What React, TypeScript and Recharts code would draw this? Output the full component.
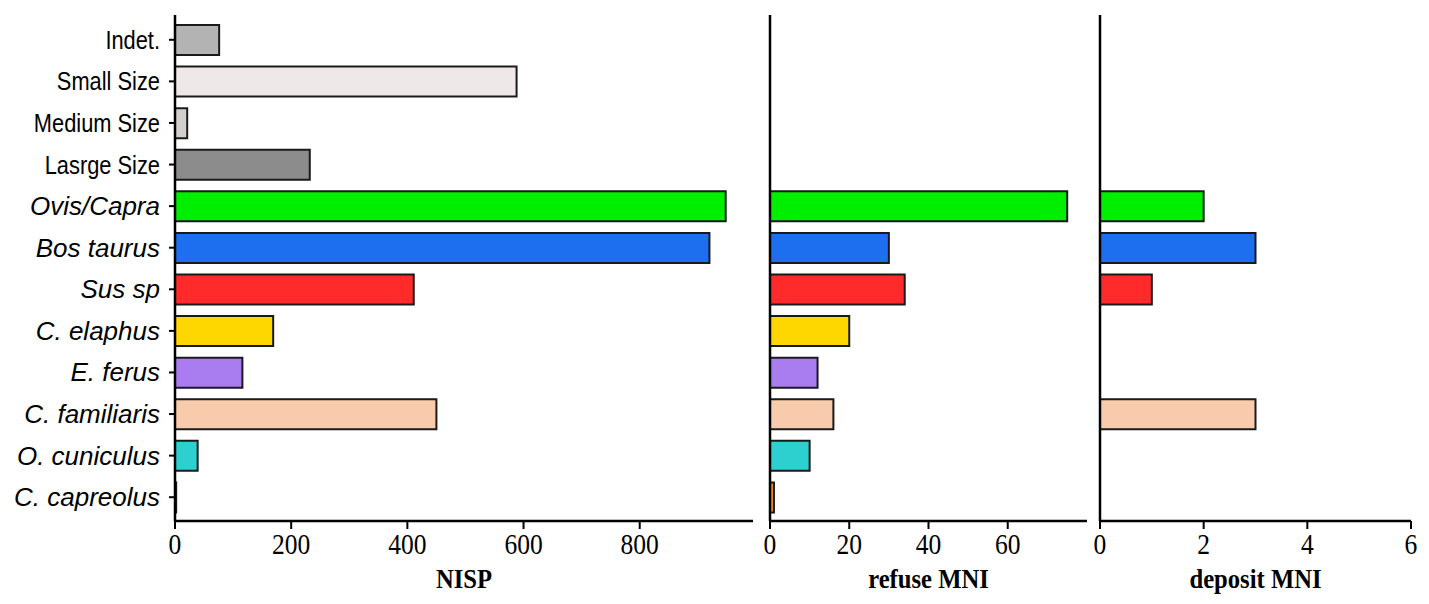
import { BarChart, Bar, XAxis, YAxis, Cell } from 'recharts';

const categories = [
  'Indet.', 'Small Size', 'Medium Size', 'Lasrge Size', 'Ovis/Capra', 'Bos taurus',
  'Sus sp', 'C. elaphus', 'E. ferus', 'C. familiaris', 'O. cuniculus', 'C. capreolus',
];
const italicLabels = [false, false, false, false, true, true, true, true, true, true, true, true];

const nisp = [76, 588, 21, 232, 948, 920, 411, 169, 116, 450, 39, 2];
const refuseMni = [0, 0, 0, 0, 75, 30, 34, 20, 12, 16, 10, 1];
const depositMni = [0, 0, 0, 0, 2, 3, 1, 0, 0, 3, 0, 0];

const barColors = [
  '#b3b3b3', '#efe8e8', '#d4cfcf', '#8c8c8c', '#00ee00', '#1e6ff0',
  '#ff2a2a', '#ffd700', '#a97cf0', '#f9cbad', '#2ecfcf', '#f28c28',
];

const nispTicks = [0, 200, 400, 600, 800];
const refuseTicks = [0, 20, 40, 60];
const depositTicks = [0, 2, 4, 6];

const data = categories.map((name, i) => ({
  name,
  nisp: nisp[i],
  refuse: refuseMni[i],
  deposit: depositMni[i],
  color: barColors[i],
}));

const CHART_H = 604;
const TOP = 15;
const AXIS_H = 83;
const SERIF = "'Liberation Serif', 'Times New Roman', serif";
const SANS = "'Liberation Sans', Arial, sans-serif";

function CategoryTick(props: any) {
  const { x, y, payload } = props;
  const italic = italicLabels[categories.indexOf(payload.value)];
  return (
    <text
      transform={`translate(${x},${y}) scale(${italic ? 1 : 0.84},1)`}
      textAnchor="end"
      dy={9}
      style={{ fontFamily: SANS, fontSize: 26, fontStyle: italic ? 'italic' : 'normal' }}
      fill="#000"
    >
      {payload.value}
    </text>
  );
}

function NumberTick(props: any) {
  const { x, y, payload } = props;
  return (
    <text
      transform={`translate(${x},${y}) scale(0.88,1)`}
      textAnchor="middle"
      dy={23}
      style={{ fontFamily: SERIF, fontSize: 29 }}
      fill="#000"
    >
      {payload.value}
    </text>
  );
}

function AxisTitle(props: any) {
  const { viewBox, text } = props;
  const cx = viewBox.x + viewBox.width / 2;
  return (
    <text
      transform={`translate(${cx},${viewBox.y + 67}) scale(0.88,1)`}
      textAnchor="middle"
      style={{ fontFamily: SERIF, fontSize: 28, fontWeight: 'bold' }}
      fill="#000"
    >
      {text}
    </text>
  );
}

const axisLine = { stroke: '#000', strokeWidth: 2.5 };
const tickLine = { stroke: '#000', strokeWidth: 2 };

function Panel(props: {
  left: number;
  width: number;
  yWidth: number;
  dataKey: string;
  domain: [number, number];
  ticks: number[];
  title: string;
  showLabels: boolean;
  rightMargin: number;
}) {
  const { left, width, yWidth, dataKey, domain, ticks, title, showLabels, rightMargin } = props;
  return (
    <div style={{ position: 'absolute', left, top: 0 }}>
      <BarChart
        width={width}
        height={CHART_H}
        data={data}
        layout="vertical"
        margin={{ top: TOP, right: rightMargin, bottom: 0, left: 0 }}
      >
        <XAxis
          type="number"
          domain={domain}
          ticks={ticks}
          allowDataOverflow
          height={AXIS_H}
          axisLine={axisLine}
          tickLine={tickLine}
          tickSize={8}
          tickMargin={2}
          tick={<NumberTick />}
          interval={0}
          label={<AxisTitle text={title} />}
        />
        <YAxis
          type="category"
          dataKey="name"
          width={yWidth}
          axisLine={axisLine}
          tickLine={showLabels ? tickLine : false}
          tickSize={6}
          tickMargin={9}
          tick={showLabels ? <CategoryTick /> : false}
          interval={0}
          padding={{ top: 4, bottom: 3 }}
        />
        <Bar dataKey={dataKey} barSize={30} isAnimationActive={false} stroke="#1a1a1a" strokeWidth={2}>
          {data.map((d, i) => (
            <Cell key={`cell-${i}`} fill={d.color} />
          ))}
        </Bar>
      </BarChart>
    </div>
  );
}

export default function App() {
  return (
    <div style={{ position: 'absolute', left: 0, top: 0, width: 1429, height: 604, background: '#fff' }}>
      <Panel left={0} width={760} yWidth={175} dataKey="nisp" domain={[0, 995]} ticks={nispTicks} title="NISP" showLabels rightMargin={7} />
      <Panel left={760} width={332} yWidth={10} dataKey="refuse" domain={[0, 80]} ticks={refuseTicks} title="refuse MNI" showLabels={false} rightMargin={5} />
      <Panel left={1090} width={336} yWidth={10} dataKey="deposit" domain={[0, 6]} ticks={depositTicks} title="deposit MNI" showLabels={false} rightMargin={15} />
    </div>
  );
}
